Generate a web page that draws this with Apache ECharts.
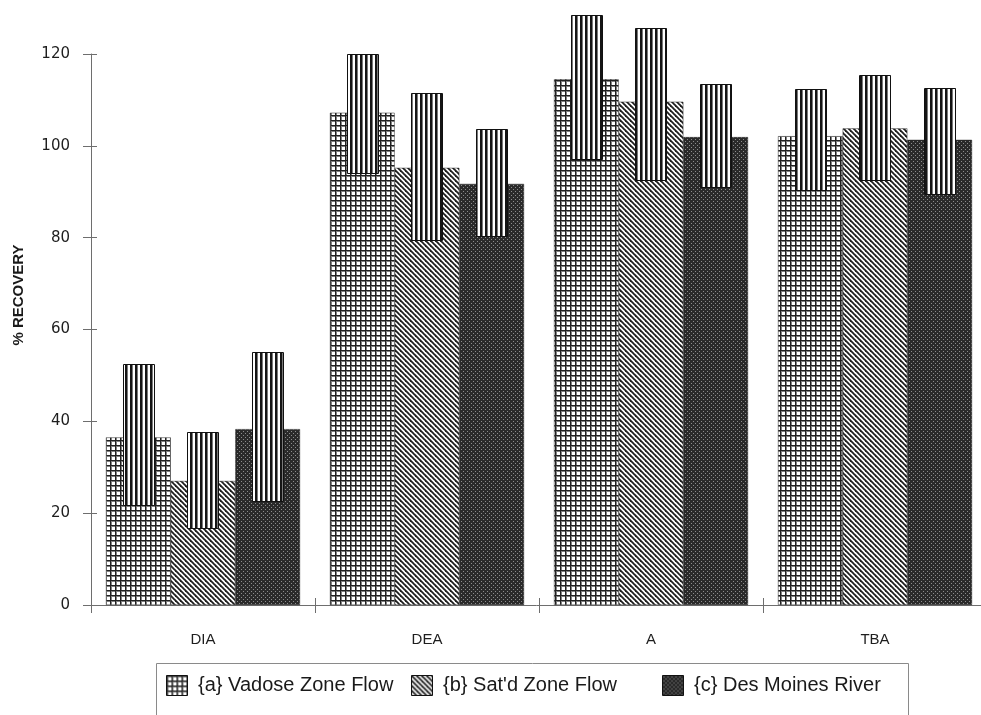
<!DOCTYPE html>
<html>
<head>
<meta charset="utf-8">
<title>% Recovery by compound</title>
<script src="https://cdn.jsdelivr.net/npm/echarts@6/dist/echarts.min.js"></script>
<style>
  html, body { margin: 0; padding: 0; background: #ffffff; }
  #chart { width: 981px; height: 715px; }
</style>
</head>
<body>
<div id="chart"></div>
<script>
// Compounds along the x axis
const categories = ['DIA', 'DEA', 'A', 'TBA'];

// Series names (legend entries)
const seriesNames = ['{a} Vadose Zone Flow', "{b} Sat'd Zone Flow", '{c} Des Moines River'];

// Mean % recovery and the low / high of each range
const vadose     = [36.5, 107.2, 114.5, 102.1];
const vadoseLow  = [21.8,  94.1,  97.3,  90.2];
const vadoseHigh = [52.4, 120.1, 128.6, 112.3];

const satd       = [27.0,  95.2, 109.6, 103.8];
const satdLow    = [16.9,  79.5,  92.5,  92.5];
const satdHigh   = [37.7, 111.6, 125.7, 115.4];

const river      = [38.3,  91.7, 101.9, 101.3];
const riverLow   = [22.5,  80.4,  91.0,  89.7];
const riverHigh  = [55.0, 103.6, 113.4, 112.7];

// Y axis ticks
const yTicks = [0, 20, 40, 60, 80, 100, 120];

const FONT = '"Liberation Sans", Arial, Helvetica, sans-serif';
const BAR_GAP = 0.134; // share of each category band left empty

// ---- fill patterns ----
function makeTile(w, h, draw) {
  const c = document.createElement('canvas');
  c.width = w; c.height = h;
  const ctx = c.getContext('2d');
  draw(ctx, w, h);
  return { image: c, repeat: 'repeat' };
}

// square grid (white holes, dark lines)
const gridFill = makeTile(5, 5, (ctx, w, h) => {
  ctx.fillStyle = '#ffffff'; ctx.fillRect(0, 0, w, h);
  ctx.fillStyle = '#808080';
  ctx.fillRect(0, 1, w, 1);
  ctx.fillRect(1, 0, 1, h);
  ctx.fillStyle = '#202020';
  ctx.fillRect(0, 0, w, 1);
  ctx.fillRect(0, 0, 1, h);
});

// diagonal hatching running down to the right
const diagFill = makeTile(5, 5, (ctx, w, h) => {
  ctx.fillStyle = '#ffffff'; ctx.fillRect(0, 0, w, h);
  ctx.strokeStyle = '#1e1e1e';
  ctx.lineWidth = 1.8;
  for (let k = -1; k <= 1; k++) {
    ctx.beginPath();
    ctx.moveTo(k * w - 1, -1);
    ctx.lineTo(k * w + w + 1, h + 1);
    ctx.stroke();
  }
});

// dark mesh with small light dots
const darkFill = makeTile(4, 4, (ctx, w, h) => {
  ctx.fillStyle = '#2a2a2a'; ctx.fillRect(0, 0, w, h);
  ctx.fillStyle = '#8c8c8c';
  ctx.fillRect(1, 1, 1, 1);
  ctx.fillRect(3, 3, 1, 1);
});

// vertical stripes for the range bars
const stripeFill = makeTile(5, 4, (ctx, w, h) => {
  ctx.fillStyle = '#ffffff'; ctx.fillRect(0, 0, w, h);
  ctx.fillStyle = '#151515'; ctx.fillRect(0, 0, 2, h);
  ctx.fillStyle = '#7a7a7a'; ctx.fillRect(2, 0, 1, h);
});

const fills = [gridFill, diagFill, darkFill];
const means = [vadose, satd, river];
const lows = [vadoseLow, satdLow, riverLow];
const highs = [vadoseHigh, satdHigh, riverHigh];

// range bar drawn over the middle of the matching mean bar
function rangeRenderer(pos) {
  return function (params, api) {
    const ci = api.value(0);
    const lo = api.value(1);
    const hi = api.value(2);
    const band = api.size([1, 0])[0];
    const barW = band * (1 - BAR_GAP) / 3;
    const cx = api.coord([ci, 0])[0] + (pos - 1) * barW;
    const yTop = api.coord([ci, hi])[1];
    const yBot = api.coord([ci, lo])[1];
    const w = barW * 0.48;
    return {
      type: 'rect',
      shape: { x: Math.round(cx - w / 2) + 0.5, y: Math.round(yTop) + 0.5, width: Math.round(w), height: Math.round(yBot - yTop) },
      style: { fill: stripeFill, stroke: '#111111', lineWidth: 1 }
    };
  };
}

const barSeries = seriesNames.map((name, i) => ({
  name: name,
  type: 'bar',
  xAxisIndex: 0,
  yAxisIndex: 0,
  barGap: '0%',
  barCategoryGap: (BAR_GAP * 100) + '%',
  data: means[i],
  itemStyle: { color: fills[i], borderColor: '#222222', borderWidth: 0.5 },
  emphasis: { disabled: true },
  z: 2
}));

const rangeSeries = seriesNames.map((name, i) => ({
  name: name + ' range',
  type: 'custom',
  xAxisIndex: 0,
  yAxisIndex: 0,
  clip: false,
  renderItem: rangeRenderer(i),
  encode: { x: 0, y: [1, 2] },
  data: categories.map((c, k) => [k, lows[i][k], highs[i][k]]),
  z: 4,
  silent: true
}));

const legendStyle = {
  orient: 'horizontal',
  padding: 0,
  itemWidth: 21,
  itemHeight: 20,
  icon: 'rect',
  selectedMode: false,
  formatter: n => ' ' + n,
  textStyle: { fontFamily: FONT, fontSize: 20, color: '#1a1a1a' },
  itemStyle: { borderColor: '#111111', borderWidth: 1 }
};
const legendLefts = [166, 411, 662];

const chart = echarts.init(document.getElementById('chart'), null, { renderer: 'canvas' });

chart.setOption({
  animation: false,
  backgroundColor: '#ffffff',
  grid: { left: 91, top: 54, width: 896, bottom: 110, containLabel: false, outerBoundsMode: 'none' },
  legend: seriesNames.map((n, i) => Object.assign({}, legendStyle, {
    data: [n], left: legendLefts[i], top: 675
  })),
  xAxis: [
    {
      type: 'category',
      data: categories,
      position: 'bottom',
      boundaryGap: true,
      axisLine: { show: true, lineStyle: { color: '#6e6e6e', width: 1 } },
      axisTick: { show: true, length: 8, lineStyle: { color: '#6e6e6e' } },
      axisLabel: { margin: 27, fontFamily: FONT, fontSize: 15, color: '#1e1e1e' },
      splitLine: { show: false }
    },
    {
      type: 'category',
      data: categories,
      position: 'bottom',
      boundaryGap: true,
      axisLine: { show: false },
      axisTick: { show: true, inside: true, length: 7, lineStyle: { color: '#6e6e6e' } },
      axisLabel: { show: false },
      splitLine: { show: false }
    }
  ],
  yAxis: [
    {
      type: 'value',
      min: yTicks[0],
      max: yTicks[yTicks.length - 1],
      interval: yTicks[1] - yTicks[0],
      position: 'left',
      axisLine: { show: true, lineStyle: { color: '#6e6e6e', width: 1 } },
      axisTick: { show: true, length: 8, lineStyle: { color: '#6e6e6e' } },
      axisLabel: { margin: 21, fontFamily: '"DejaVu Sans", sans-serif', fontSize: 15, color: '#1e1e1e' },
      splitLine: { show: false }
    },
    {
      type: 'value',
      min: yTicks[0],
      max: yTicks[yTicks.length - 1],
      interval: yTicks[1] - yTicks[0],
      position: 'left',
      axisLine: { show: false },
      axisTick: { show: true, inside: true, length: 6, lineStyle: { color: '#6e6e6e' } },
      axisLabel: { show: false },
      splitLine: { show: false }
    }
  ],
  graphic: [
    {
      type: 'text',
      x: 19,
      y: 295,
      rotation: Math.PI / 2,
      style: {
        text: '% RECOVERY',
        fontFamily: FONT,
        fontSize: 15,
        fontWeight: 'bold',
        fill: '#1a1a1a',
        align: 'center',
        verticalAlign: 'middle'
      }
    },
    {
      type: 'rect',
      left: 154,
      top: 661,
      shape: { x: 0.5, y: 0.5, width: 752, height: 90 },
      style: { fill: 'none', stroke: '#8a8a8a', lineWidth: 1 },
      z: -1
    }
  ],
  series: barSeries.concat(rangeSeries)
});
</script>
</body>
</html>
